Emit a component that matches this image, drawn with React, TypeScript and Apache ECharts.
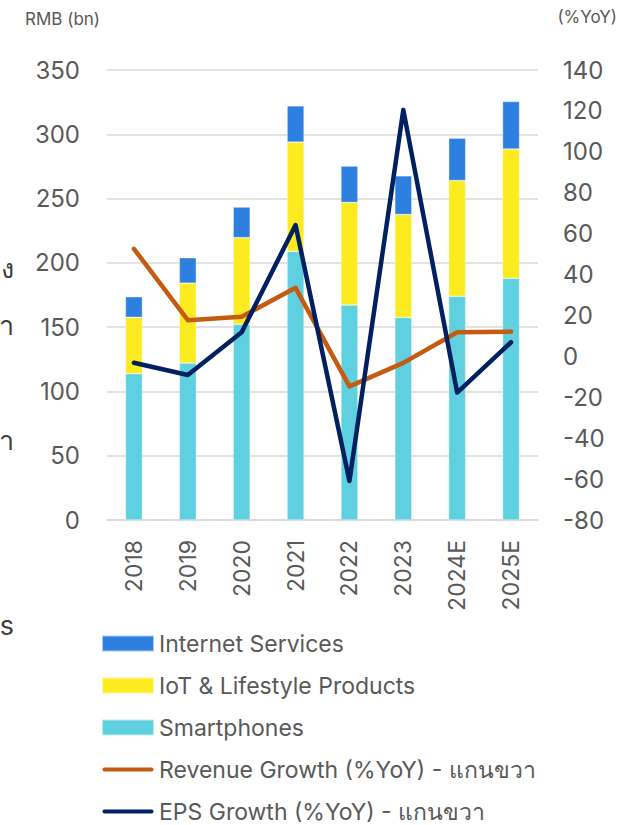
import React, { useEffect, useRef } from "react";
import * as echarts from "echarts";

const categories = ["2018", "2019", "2020", "2021", "2022", "2023", "2024E", "2025E"];
const smartphones = [113.8, 122.1, 152.2, 208.9, 167.2, 157.5, 174, 188];
const iot = [43.8, 62.1, 67.4, 85.0, 79.8, 80.1, 90, 100.5];
const internet = [16.0, 19.8, 23.8, 28.2, 28.3, 30.1, 33, 37];
const revenueGrowth = [52.6, 17.7, 19.4, 33.5, -14.7, -3.2, 11.8, 12.1];
const epsGrowth = [-3.1, -9.1, 11.8, 64.2, -60.9, 120.5, -17.7, 6.9];

const FONT = "Inter, 'Noto Sans', 'DejaVu Sans', sans-serif";
const GREY = "#595959";
const LINE_ICON =
  "path://M0,0M2.5,6A2,2 0 0 0 2.5,10L52.5,10A2,2 0 0 0 52.5,6ZM55,16";

export default function App() {
  const ref = useRef<HTMLDivElement>(null);
  useEffect(() => {
    if (!ref.current) return;
    const chart = echarts.init(ref.current, undefined, { renderer: "svg" });
    const barCommon = {
      type: "bar" as const,
      stack: "rev",
      barWidth: 17,
      yAxisIndex: 0,
      itemStyle: { borderColor: "rgba(255,255,255,0.6)", borderWidth: 0.6 },
    };
    chart.setOption({
      animation: false,
      textStyle: { fontFamily: FONT },
      grid: { left: 107, right: 82, top: 70, bottom: 305 },
      xAxis: {
        type: "category",
        data: categories,
        axisLine: { lineStyle: { color: "#D9D9D9", width: 1.5 } },
        axisTick: { show: false },
        axisLabel: { rotate: 90, fontSize: 23, color: GREY, margin: 20, fontFamily: FONT },
      },
      yAxis: [
        {
          type: "value",
          min: 0,
          max: 350,
          interval: 50,
          axisLine: { show: false },
          axisTick: { show: false },
          splitLine: { lineStyle: { color: "#D9D9D9", width: 1.5 } },
          axisLabel: { fontSize: 24, color: GREY, margin: 27, fontFamily: FONT },
        },
        {
          type: "value",
          min: -80,
          max: 140,
          interval: 20,
          axisLine: { show: false },
          axisTick: { show: false },
          splitLine: { show: false },
          axisLabel: { fontSize: 24, color: GREY, margin: 25, fontFamily: FONT },
        },
      ],
      legend: {
        orient: "vertical",
        left: 101,
        top: 632,
        height: 400,
        padding: 0,
        itemWidth: 52,
        itemHeight: 16,
        itemGap: 19,
        textStyle: { fontSize: 23, color: GREY, fontFamily: FONT },
        data: [
          { name: "Internet Services", icon: "rect" },
          { name: "IoT & Lifestyle Products", icon: "rect" },
          { name: "Smartphones", icon: "rect" },
          { name: "Revenue Growth (%YoY) - แกนขวา", icon: LINE_ICON },
          { name: "EPS Growth (%YoY) - แกนขวา", icon: LINE_ICON },
        ],
      },
      graphic: [
        { type: "text", left: 25, top: 10, style: { text: "RMB (bn)", fontSize: 17, fill: GREY, fontFamily: FONT } },
        { type: "text", right: 3, top: 8, style: { text: "(%YoY)", fontSize: 17, fill: GREY, fontFamily: FONT } },
        { type: "text", x: 14, y: 268, style: { text: "ง", fontSize: 27, fill: "#404040", align: "right", verticalAlign: "middle", fontFamily: FONT } },
        { type: "text", x: 14, y: 325, style: { text: "า", fontSize: 27, fill: "#404040", align: "right", verticalAlign: "middle", fontFamily: FONT } },
        { type: "text", x: 14, y: 440, style: { text: "ำ", fontSize: 27, fill: "#404040", align: "right", verticalAlign: "middle", fontFamily: FONT } },
        { type: "text", x: 14, y: 625, style: { text: "s", fontSize: 27, fill: "#404040", align: "right", verticalAlign: "middle", fontFamily: FONT } },
      ],
      series: [
        { ...barCommon, name: "Smartphones", data: smartphones, itemStyle: { ...barCommon.itemStyle, color: "#5FD0DF" } },
        { ...barCommon, name: "IoT & Lifestyle Products", data: iot, itemStyle: { ...barCommon.itemStyle, color: "#FCEB1E" } },
        { ...barCommon, name: "Internet Services", data: internet, itemStyle: { ...barCommon.itemStyle, color: "#2D7FE0" } },
        {
          type: "line",
          name: "Revenue Growth (%YoY) - แกนขวา",
          yAxisIndex: 1,
          data: revenueGrowth,
          symbol: "none",
          z: 5,
          itemStyle: { color: "#C55A11" },
          lineStyle: { color: "#C55A11", width: 4.5, cap: "round", join: "round" },
        },
        {
          type: "line",
          name: "EPS Growth (%YoY) - แกนขวา",
          yAxisIndex: 1,
          data: epsGrowth,
          symbol: "none",
          z: 6,
          itemStyle: { color: "#002060" },
          lineStyle: { color: "#002060", width: 4.5, cap: "round", join: "round" },
        },
      ],
    });
    return () => chart.dispose();
  }, []);
  return (
    <div
      ref={ref}
      style={{ position: "absolute", left: 0, top: 0, width: 620, height: 825, background: "#fff" }}
    />
  );
}
